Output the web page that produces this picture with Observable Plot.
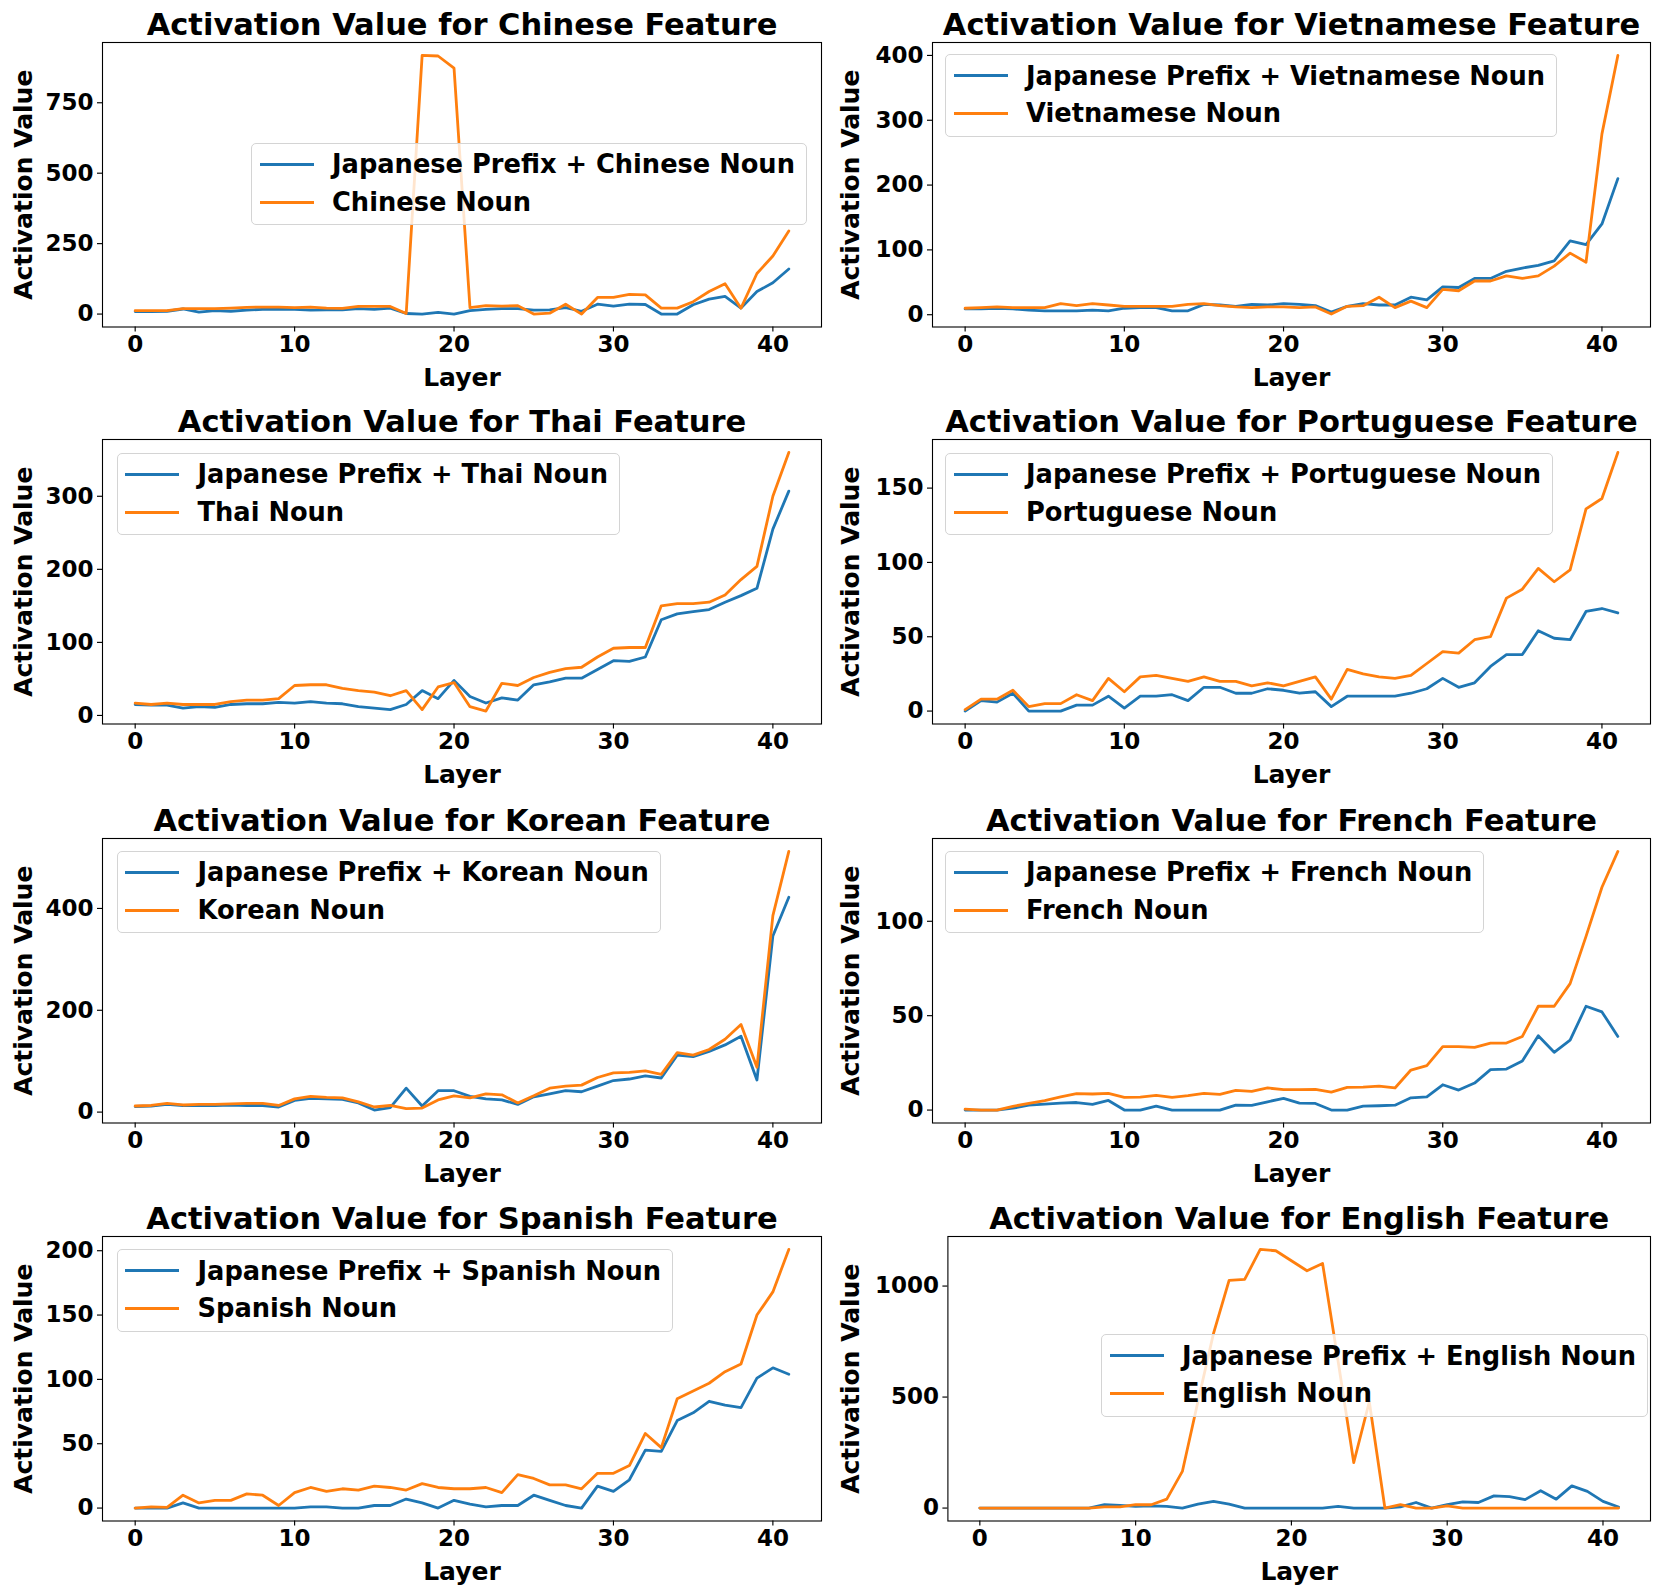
<!DOCTYPE html>
<html>
<head>
<meta charset="utf-8">
<script src="https://cdn.jsdelivr.net/npm/d3@7"></script>
<script src="https://cdn.jsdelivr.net/npm/@observablehq/plot@0.6"></script>
<style>
  body { margin: 0; background: #fff; font-family: "DejaVu Sans", sans-serif; }
  #fig { position: relative; width: 1661px; height: 1596px; background: #fff; overflow: hidden; }
  .panel { position: absolute; }
  .legend { position: absolute; box-sizing: border-box; height: 82.5px; padding: 2px 11px 0 0;
            border: 1px solid #d4d4d4; border-radius: 5px; background: rgba(255,255,255,0.8);
            font-weight: bold; font-size: 25.7px; white-space: nowrap; }
  .row { display: flex; align-items: center; height: 37.7px; }
  .handle { display: inline-block; width: 54px; height: 2.8px; margin-left: 7.5px; margin-right: 18.5px; }
  .lab { line-height: 37.7px; position: relative; top: 0.5px; }
</style>
</head>
<body>
<div id="fig"></div>
<script>
const layers = d3.range(0, 42);
const xTicks = [0, 10, 20, 30, 40];

const chineseJP   = [9,9,10,18,7,12,10,14,17,18,17,14,15,15,19,17,21,2,0,6,0,12,17,19,19,14,15,23,10,35,28,35,34,0,0,33,53,63,21,80,111,160];
const chineseNoun = [12,12,12,19,19,19,21,24,25,25,23,25,21,20,27,27,27,2,918,916,873,23,30,28,30,0,3,35,0,59,59,70,68,21,21,44,80,108,21,144,206,295];

const vietJP   = [9,9,10,9,7,6,6,6,7,6,10,11,11,6,6,16,15,13,16,15,17,16,14,4,13,17,15,15,27,23,43,42,56,56,67,72,76,83,114,108,140,210];
const vietNoun = [10,11,12,11,11,11,17,14,17,15,13,13,13,13,16,17,14,12,11,12,12,11,12,1,13,14,27,11,21,11,39,37,52,52,60,56,60,75,95,81,279,400];

const thaiJP   = [15,14,14,10,12,11,15,16,16,18,17,19,17,16,12,10,8,15,34,23,48,26,17,24,21,42,46,51,51,63,75,74,80,131,139,142,145,155,164,174,255,307];
const thaiNoun = [17,15,17,15,15,15,19,21,21,23,41,42,42,37,34,32,27,34,8,39,45,12,6,44,41,52,59,64,66,80,92,93,93,150,153,153,155,165,186,204,300,360];

const ptJP   = [0,7,6,12,0,0,0,4,4,10,2,10,10,11,7,16,16,12,12,15,14,12,13,3,10,10,10,10,12,15,22,16,19,30,38,38,54,49,48,67,69,66];
const ptNoun = [1,8,8,14,3,5,5,11,7,22,13,23,24,22,20,23,20,20,17,19,17,20,23,8,28,25,23,22,24,32,40,39,48,50,76,82,96,87,95,136,143,174];

const krJP   = [11,12,15,13,13,13,14,13,13,10,23,27,26,25,18,4,9,47,12,42,42,31,26,24,15,30,36,42,40,51,62,65,71,67,112,109,119,132,149,63,346,422];
const krNoun = [12,13,17,14,15,15,16,17,17,13,26,31,29,28,20,10,13,7,8,24,32,28,36,34,18,32,47,51,53,68,77,78,81,74,117,112,123,143,172,88,386,512];

const frJP   = [0,0,0,1,2.6,3.2,3.7,4,3,5.1,0,0,2.1,0,0,0,0,2.6,2.5,4.4,6.2,3.7,3.5,0,0,2.1,2.3,2.6,6.5,7,13.4,10.6,14.3,21.4,21.7,26,39.4,30.6,37,55,52,39];
const frNoun = [0.5,0,0,2,3.5,5,7,8.7,8.5,8.8,6.7,6.9,7.8,6.7,7.6,8.8,8.3,10.4,9.9,11.7,10.8,10.8,11,9.5,12,12.2,12.7,11.7,21.2,23.5,33.6,33.6,33.2,35.5,35.5,39,55,55,67,92,118,137];

const esJP   = [0,0,0,4,0,0,0,0,0,0,0,1,1,0,0,2,2,7,4,0,6,3,1,2,2,10,6,2,0,17,13,22,45,44,68,74,83,80,78,101,109,104];
const esNoun = [0,1,0.5,10,4,6,6,11,10,2,12,16,13,15,14,17,16,14,19,16,15,15,16,12,26,23,18,18,15,27,27,33,58,47,85,91,97,106,112,150,168,201];

const enJP   = [0,0,0,0,0,0,0,0,15,12,8,10,8,0,18,30,18,0,0,0,0,0,0,8,0,0,0,5,25,0,15,28,25,55,52,38,78,40,100,75,30,5];
const enNoun = [0,0,0,0,0,0,0,0,5,5,15,15,40,165,480,787,1026,1030,1165,1159,1114,1069,1102,660,205,479,0,15,0,0,10,0,0,0,0,0,0,0,0,0,0,0];

const languages = ["Chinese", "Vietnamese", "Thai", "Portuguese", "Korean", "French", "Spanish", "English"];
const seriesJP   = [chineseJP, vietJP, thaiJP, ptJP, krJP, frJP, esJP, enJP];
const seriesNoun = [chineseNoun, vietNoun, thaiNoun, ptNoun, krNoun, frNoun, esNoun, enNoun];
const yTickSets = [[0,250,500,750],[0,100,200,300,400],[0,100,200,300],[0,50,100,150],[0,200,400],[0,50,100],[0,50,100,150,200],[0,500,1000]];

// layout (pixels)
const svgTops = [0, 396.5, 796, 1194];
const legendPos = [[251,142.7],[945,54],[116.5,452.7],[945,452.7],[116.5,850.7],[945,850.7],[116.5,1249],[1101,1334]];
const BLUE = "#1f77b4", ORANGE = "#ff7f0e";

const fig = document.getElementById("fig");

languages.forEach((lang, k) => {
  const col = k % 2, row = Math.floor(k / 2);
  const jp = seriesJP[k], noun = seriesNoun[k];
  const all = jp.concat(noun);
  const [mn, mx] = d3.extent(all);
  const pad = (mx - mn) * 0.05;
  const isEng = lang === "English";
  const left = col === 0 ? 0 : 830;
  const width = col === 0 ? 830 : 831;
  const marginLeft = col === 0 ? 102 : (isEng ? 117.4 : 102);
  const marginRight = col === 0 ? 9 : 11;
  const yLabelDx = col === 0 ? -78.7 : (isEng ? -96.8 : -81.4);

  const dataJP = layers.map((l, i) => ({layer: l, value: jp[i]}));
  const dataNoun = layers.map((l, i) => ({layer: l, value: noun[i]}));

  const chart = Plot.plot({
    width, height: 398,
    marginTop: 42, marginBottom: 71.5, marginLeft, marginRight,
    style: {fontFamily: "DejaVu Sans", fontWeight: "bold", background: "transparent", overflow: "visible", color: "black"},
    x: {domain: [-2.05, 43.05]},
    y: {domain: [mn - pad, mx + pad]},
    marks: [
      Plot.axisX({ticks: xTicks, tickSize: 5, tickPadding: 4, fontSize: 23, fontWeight: "bold", label: null, strokeWidth: 1.15}),
      Plot.axisY({ticks: yTickSets[k], tickFormat: "d", tickSize: 5, tickPadding: 4, fontSize: 23, fontWeight: "bold", label: null, strokeWidth: 1.15}),
      Plot.line(dataJP, {x: "layer", y: "value", stroke: BLUE, strokeWidth: 2.8}),
      Plot.line(dataNoun, {x: "layer", y: "value", stroke: ORANGE, strokeWidth: 2.8}),
      Plot.frame({stroke: "black", strokeWidth: 1.1}),
      Plot.text([`Activation Value for ${lang} Feature`], {text: d => d, frameAnchor: "top", textAnchor: "middle", lineAnchor: "middle", dy: -16.8, fontSize: 30.5, fontWeight: "bold", fill: "black"}),
      Plot.text(["Layer"], {text: d => d, frameAnchor: "bottom", textAnchor: "middle", lineAnchor: "middle", dy: 51, fontSize: 25, fontWeight: "bold", fill: "black"}),
      Plot.text(["Activation Value"], {text: d => d, frameAnchor: "left", textAnchor: "middle", lineAnchor: "middle", dx: yLabelDx, rotate: -90, fontSize: 25, fontWeight: "bold", fill: "black"})
    ]
  });
  const holder = document.createElement("div");
  holder.className = "panel";
  holder.style.left = left + "px";
  holder.style.top = svgTops[row] + "px";
  holder.appendChild(chart);
  fig.appendChild(holder);

  // legend
  const lg = document.createElement("div");
  lg.className = "legend";
  lg.style.left = legendPos[k][0] + "px";
  lg.style.top = legendPos[k][1] + "px";
  [[BLUE, `Japanese Prefix + ${lang} Noun`], [ORANGE, `${lang} Noun`]].forEach(([c, t]) => {
    const r = document.createElement("div");
    r.className = "row";
    const h = document.createElement("span");
    h.className = "handle";
    h.style.background = c;
    const s = document.createElement("span");
    s.className = "lab";
    s.textContent = t;
    r.appendChild(h); r.appendChild(s);
    lg.appendChild(r);
  });
  fig.appendChild(lg);
});
</script>
</body>
</html>
